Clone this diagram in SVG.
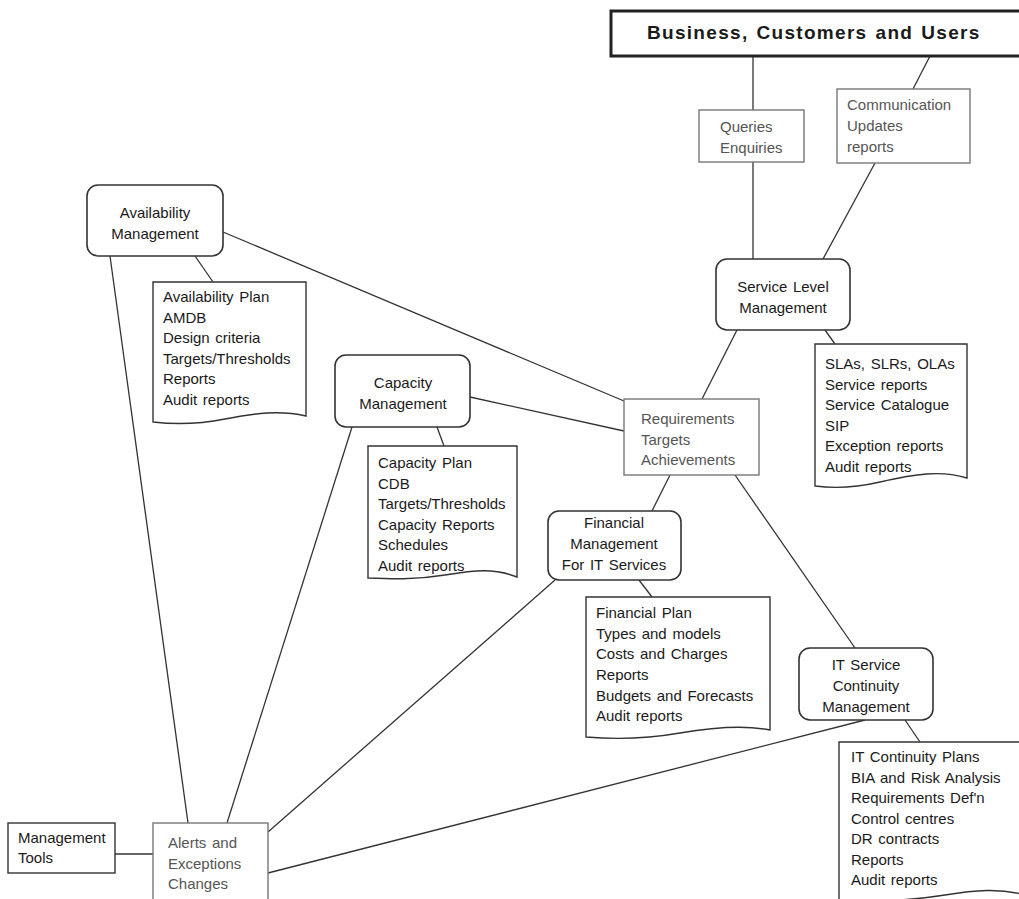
<svg xmlns="http://www.w3.org/2000/svg" width="1019" height="899" viewBox="0 0 1019 899">
  <style>
    text { font-family: "Liberation Sans", "DejaVu Sans", sans-serif; font-size: 15px; word-spacing: 1.5px; fill: #1a1a1a; }
    .title { font-size: 19px; font-weight: bold; letter-spacing: 1.3px; }
    .mid { text-anchor: middle; }
    .proc { fill: #fff; stroke: #333; stroke-width: 1.6; }
    .doc { fill: #fff; stroke: #333; stroke-width: 1.4; }
    .flow { fill: #fff; stroke: #777; stroke-width: 1.4; }
    .flowtext { fill: #555; }
    #connectors line { stroke: #333; stroke-width: 1.3; }
  </style>

  <rect width="1019" height="899" fill="#fff"/>

  <!-- connectors between nodes -->
  <g id="connectors">
    <line x1="753" y1="56" x2="753" y2="110"/>
    <line x1="753" y1="162" x2="753" y2="259"/>
    <line x1="930" y1="56" x2="913" y2="89"/>
    <line x1="875" y1="163" x2="823" y2="259"/>
    <line x1="825" y1="330" x2="835" y2="344"/>
    <line x1="737" y1="330" x2="702" y2="399"/>
    <line x1="223" y1="232" x2="624" y2="401"/>
    <line x1="195" y1="256" x2="213" y2="282"/>
    <line x1="110" y1="256" x2="188" y2="823"/>
    <line x1="470" y1="397" x2="624" y2="431"/>
    <line x1="437" y1="427" x2="444" y2="446"/>
    <line x1="352" y1="427" x2="227" y2="823"/>
    <line x1="670" y1="475" x2="652" y2="511"/>
    <line x1="735" y1="475" x2="855" y2="648"/>
    <line x1="639" y1="580" x2="652" y2="597"/>
    <line x1="555" y1="580" x2="268" y2="832"/>
    <line x1="905" y1="720" x2="920" y2="742"/>
    <line x1="865" y1="720" x2="268" y2="873"/>
    <line x1="115" y1="854" x2="153" y2="854"/>
  </g>

  <g id="business">
    <rect x="611" y="11" width="420" height="45" fill="#fff" stroke="#222" stroke-width="3"/>
    <text class="title" x="647" y="39">Business, Customers and Users</text>
  </g>

  <g id="queries">
    <rect class="flow" x="699" y="110" width="105" height="52"/>
    <text class="flowtext" x="720" y="132">Queries</text>
    <text class="flowtext" x="720" y="153">Enquiries</text>
  </g>

  <g id="communication">
    <rect class="flow" x="837" y="89" width="133" height="74"/>
    <text class="flowtext" x="847" y="110">Communication</text>
    <text class="flowtext" x="847" y="131">Updates</text>
    <text class="flowtext" x="847" y="152">reports</text>
  </g>

  <g id="service-level">
    <rect class="proc" x="716" y="259" width="134" height="71" rx="11"/>
    <text class="mid" x="783" y="292">Service Level</text>
    <text class="mid" x="783" y="313">Management</text>
  </g>

  <g id="service-level-docs">
    <path class="doc" d="M815,344 H967 V478 C940,470 915,474 880,482 C850,489 830,488 815,486 Z"/>
    <text x="825" y="369">SLAs, SLRs, OLAs</text>
    <text x="825" y="390">Service reports</text>
    <text x="825" y="410">Service Catalogue</text>
    <text x="825" y="431">SIP</text>
    <text x="825" y="451">Exception reports</text>
    <text x="825" y="472">Audit reports</text>
  </g>

  <g id="requirements">
    <rect class="flow" x="624" y="399" width="135" height="76"/>
    <text class="flowtext" x="641" y="424">Requirements</text>
    <text class="flowtext" x="641" y="445">Targets</text>
    <text class="flowtext" x="641" y="465">Achievements</text>
  </g>

  <g id="availability">
    <rect class="proc" x="87" y="185" width="136" height="71" rx="11"/>
    <text class="mid" x="155" y="218">Availability</text>
    <text class="mid" x="155" y="239">Management</text>
  </g>

  <g id="availability-docs">
    <path class="doc" d="M153,282 H306 V416 C280,410 255,413 225,419 C195,425 170,424 153,422 Z"/>
    <text x="163" y="302">Availability Plan</text>
    <text x="163" y="323">AMDB</text>
    <text x="163" y="343">Design criteria</text>
    <text x="163" y="364">Targets/Thresholds</text>
    <text x="163" y="384">Reports</text>
    <text x="163" y="405">Audit reports</text>
  </g>

  <g id="capacity">
    <rect class="proc" x="335" y="355" width="135" height="72" rx="11"/>
    <text class="mid" x="403" y="388">Capacity</text>
    <text class="mid" x="403" y="409">Management</text>
  </g>

  <g id="capacity-docs">
    <path class="doc" d="M368,446 H517 V577 C495,568 475,570 445,575 C415,580 390,579 368,578 Z"/>
    <text x="378" y="468">Capacity Plan</text>
    <text x="378" y="489">CDB</text>
    <text x="378" y="509">Targets/Thresholds</text>
    <text x="378" y="530">Capacity Reports</text>
    <text x="378" y="550">Schedules</text>
    <text x="378" y="571">Audit reports</text>
  </g>

  <g id="financial">
    <rect class="proc" x="548" y="511" width="133" height="69" rx="11"/>
    <text class="mid" x="614" y="528">Financial</text>
    <text class="mid" x="614" y="549">Management</text>
    <text class="mid" x="614" y="570">For IT Services</text>
  </g>

  <g id="financial-docs">
    <path class="doc" d="M586,597 H770 V730 C745,725 715,727 680,733 C640,740 610,739 586,737 Z"/>
    <text x="596" y="618">Financial Plan</text>
    <text x="596" y="639">Types and models</text>
    <text x="596" y="659">Costs and Charges</text>
    <text x="596" y="680">Reports</text>
    <text x="596" y="701">Budgets and Forecasts</text>
    <text x="596" y="721">Audit reports</text>
  </g>

  <g id="continuity">
    <rect class="proc" x="799" y="648" width="134" height="72" rx="11"/>
    <text class="mid" x="866" y="670">IT Service</text>
    <text class="mid" x="866" y="691">Continuity</text>
    <text class="mid" x="866" y="712">Management</text>
  </g>

  <g id="continuity-docs">
    <path class="doc" d="M839,742 H1025 V895 C1000,888 975,890 945,895 C915,900 880,902 839,900 Z"/>
    <text x="851" y="762">IT Continuity Plans</text>
    <text x="851" y="783">BIA and Risk Analysis</text>
    <text x="851" y="803">Requirements Def'n</text>
    <text x="851" y="824">Control centres</text>
    <text x="851" y="844">DR contracts</text>
    <text x="851" y="865">Reports</text>
    <text x="851" y="885">Audit reports</text>
  </g>

  <g id="management-tools">
    <rect class="doc" x="8" y="823" width="107" height="50"/>
    <text x="18" y="843">Management</text>
    <text x="18" y="863">Tools</text>
  </g>

  <g id="alerts">
    <rect class="flow" x="153" y="823" width="115" height="90"/>
    <text class="flowtext" x="168" y="848">Alerts and</text>
    <text class="flowtext" x="168" y="869">Exceptions</text>
    <text class="flowtext" x="168" y="889">Changes</text>
  </g>
</svg>
